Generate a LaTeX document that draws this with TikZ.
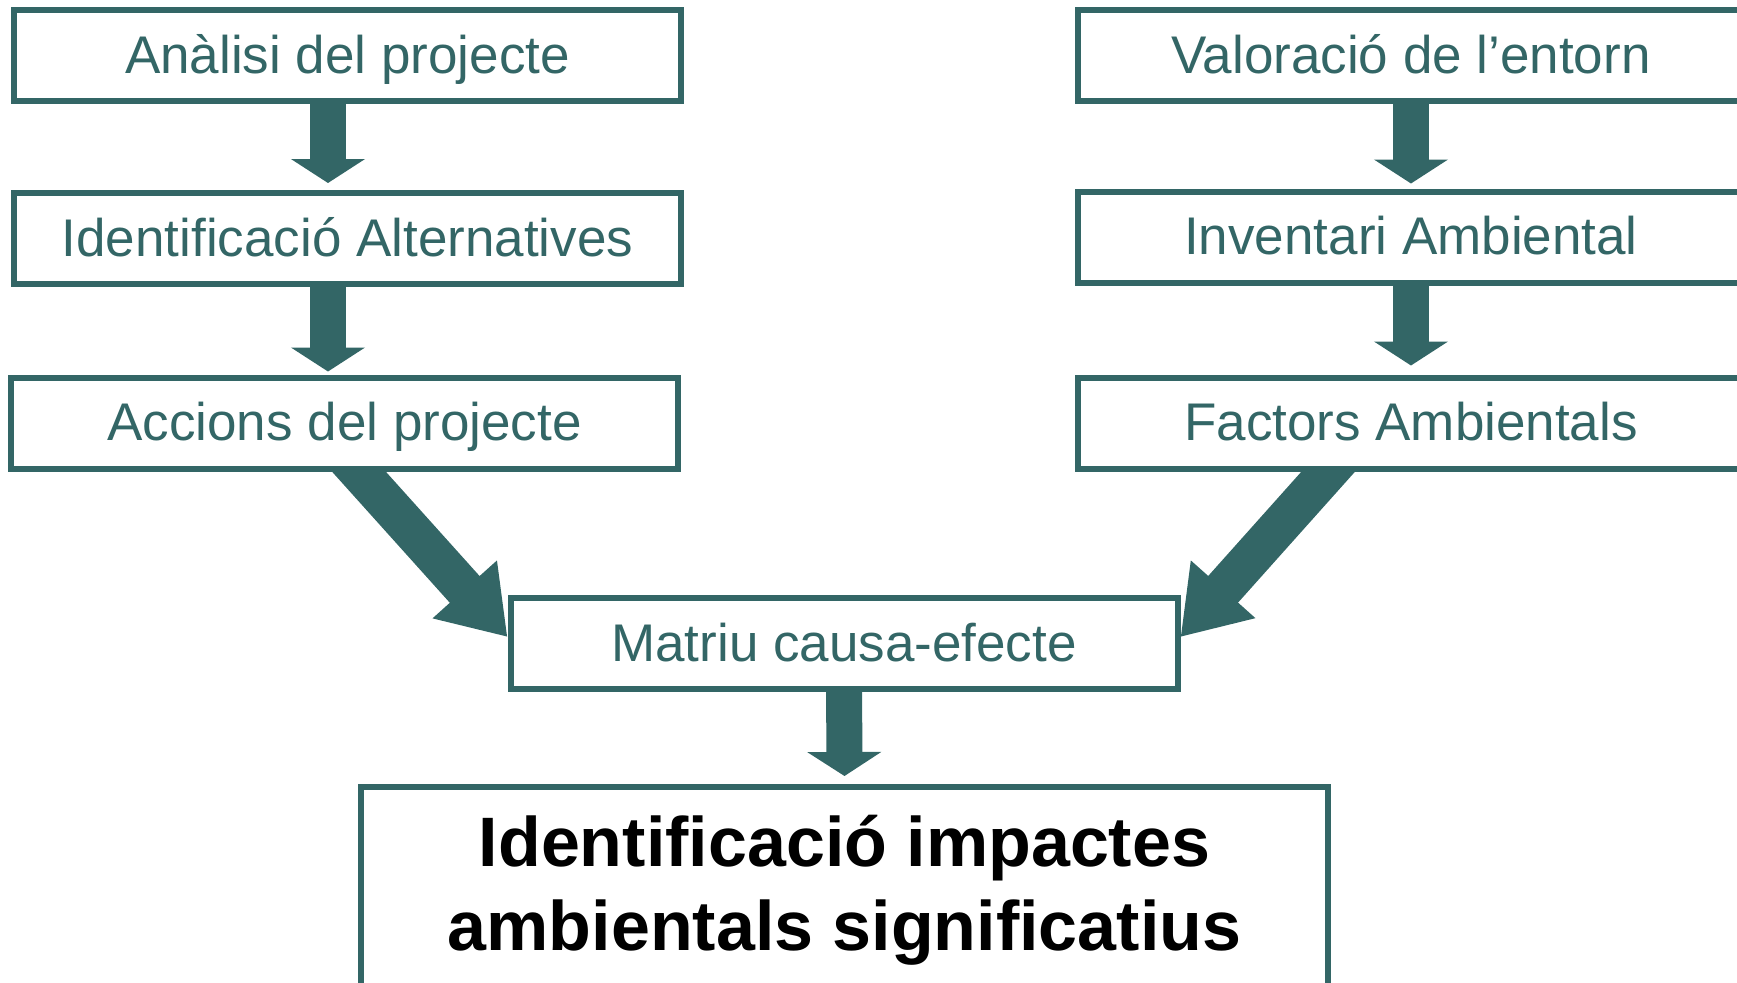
\documentclass[tikz,border=0pt]{standalone}
\usepackage{fontspec}
\setmainfont{Liberation Sans}
\usetikzlibrary{arrows.meta,backgrounds}
\definecolor{envteal}{HTML}{336666}

\begin{document}
\begin{tikzpicture}[x=0.5pt,y=-0.5pt,
    stage/.style={draw=envteal, line width=3pt, fill=white, inner sep=0pt,
      minimum width=333.5pt, minimum height=45.5pt, text=envteal,
      font=\fontsize{26.5}{32}\selectfont, text height=17.5pt, text depth=0pt},
    result/.style={draw=envteal, line width=3pt, fill=white, inner sep=0pt,
      minimum width=483.5pt, minimum height=103pt, align=center,
      font=\fontsize{35}{42}\selectfont\bfseries},
    flow/.style={draw=envteal, line width=18pt, -{Triangle[width=36.5pt,length=12pt]}},
    merge/.style={draw=envteal, line width=20pt, -{Triangle[width=41pt,length=32pt]}}]
    \useasboundingbox (0,0) rectangle (1737,982);
    % left column
    \node[stage] (analisi) at (347.5,55.5) {Anàlisi del projecte};
    \node[stage] (altern) at (347.5,238.5) {Identificació Alternatives};
    \node[stage] (accions) at (344.5,423) {Accions del projecte};
    % right column
    \node[stage] (valor) at (1411,55.5) {Valoració de l’entorn};
    \node[stage] (invent) at (1411,237) {Inventari Ambiental};
    \node[stage] (factors) at (1411,423) {Factors Ambientals};
    % centre
    \node[stage] (matriu) at (844,643.5) {Matriu causa-efecte};
    \node[result] (impactes) at (844.5,890) {Identificació impactes\\ambientals significatius};
    \begin{scope}[on background layer]
      \draw[flow] ([xshift=-9.75pt,yshift=10pt]analisi.south) -- ([xshift=-9.75pt,yshift=3.5pt]altern.north);
      \draw[flow] ([xshift=-9.75pt,yshift=10pt]altern.south) -- ([xshift=-8.25pt,yshift=1.5pt]accions.north);
      \draw[flow] ([yshift=10pt]valor.south) -- ([yshift=2.5pt]invent.north);
      \draw[flow] ([yshift=10pt]invent.south) -- ([yshift=4.5pt]factors.north);
      \draw[merge] ([xshift=-2.75pt,yshift=11pt]accions.south) -- ([yshift=3.25pt]matriu.west);
      \draw[merge] ([xshift=-31.5pt,yshift=11pt]factors.south) -- ([yshift=3.25pt]matriu.east);
      \draw[flow] ([yshift=10pt]matriu.south) -- ([yshift=4pt]impactes.north);
    \end{scope}
\end{tikzpicture}
\end{document}
